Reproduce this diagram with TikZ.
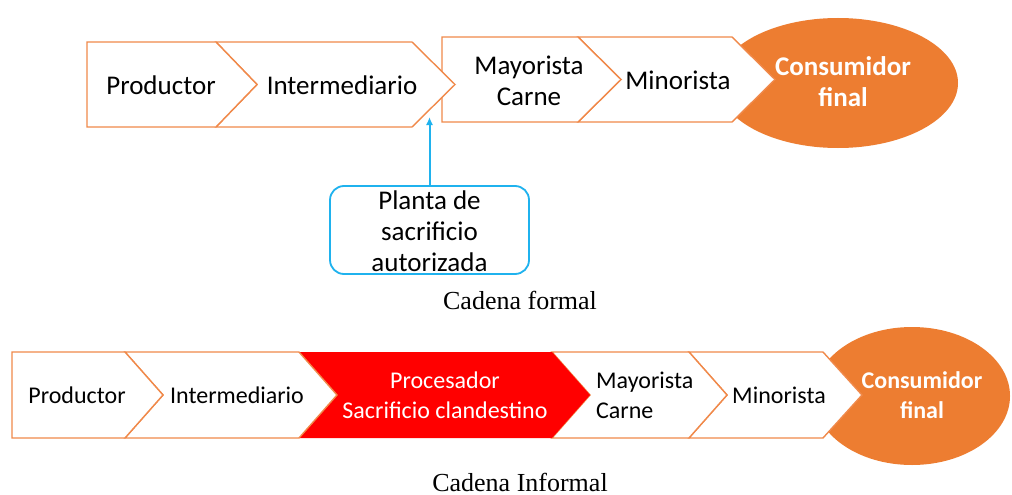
\documentclass[tikz,border=0pt]{standalone}
\usepackage{fontspec}
\usetikzlibrary{arrows.meta}
\setmainfont{Carlito}
\newfontfamily\serifcap{Liberation Serif}
\definecolor{chevline}{HTML}{F0894A}
\definecolor{ellfill}{HTML}{ED7D31}
\definecolor{cyanline}{HTML}{1FB2EE}
\definecolor{redfill}{HTML}{FF0000}
\begin{document}
\begin{tikzpicture}[x=1pt,y=-1pt,
  chev/.style={draw=chevline,fill=white,line width=1.4pt,line join=miter},
  redchev/.style={fill=redfill,draw=none},
  ell/.style={fill=ellfill,draw=none},
  bigtxt/.style={font=\fontsize{27}{31}\selectfont,text=black,inner sep=0pt,align=center},
  smalltxt/.style={font=\fontsize{24}{30}\selectfont,text=black,inner sep=0pt,align=center},
  plantabox/.style={draw=cyanline,line width=1.8pt,rounded corners=14pt,fill=white,minimum width=199pt,minimum height=88pt,inner sep=0pt},
  caption/.style={font=\serifcap\fontsize{26}{30}\selectfont,inner sep=0pt,anchor=base},
  conn/.style={draw=cyanline,line width=2pt,-{Latex[length=8pt,width=7pt]}}
]
\useasboundingbox (0,0) rectangle (1012,495);
\fill[white] (0,0) rectangle (1012,495);
% ---------- top chain ----------
\fill[ell] (838,83) ellipse [x radius=120, y radius=65];
\path[chev] (578,37) -- (732,37) -- (775,79.5) -- (732,122) -- (578,122) -- (621,79.5) -- cycle;
\path[chev] (442,37) -- (578,37) -- (621,79.5) -- (578,122) -- (442,122) -- cycle;
\path[chev] (216,42) -- (412,42) -- (455,84.5) -- (412,127) -- (216,127) -- (257,84.5) -- cycle;
\path[chev] (87,42) -- (216,42) -- (257,84.5) -- (216,127) -- (87,127) -- cycle;
\node[bigtxt] (tprod) at (161,85) {Productor};
\node[bigtxt] (tinter) at (342,85) {Intermediario};
\node[bigtxt] (tmay) at (529,81) {Mayorista\\Carne\hspace{18pt}};
\node[bigtxt] (tmin) at (678,80) {Minorista};
\node[bigtxt,text=white,font=\fontsize{27}{31}\selectfont\bfseries] (tcons) at (843,82) {Consumidor\\final};
% planta
\node[plantabox] (planta) at (429.5,230) {};
\node[bigtxt] (plantatxt) at (429.5,231) {Planta de\\sacrificio\\autorizada};
\coordinate (arrowend) at (429.5,117);
\draw[conn] (planta.north) -- (arrowend);
\node[caption] (cap1) at (520,309) {Cadena formal};
% ---------- bottom chain ----------
\fill[ell] (912,396) ellipse [x radius=98, y radius=69];
\path[chev] (689,352) -- (823,352) -- (862,395) -- (823,438) -- (689,438) -- (727,395) -- cycle;
\path[chev] (552,352) -- (689,352) -- (727,395) -- (689,438) -- (552,438) -- (590,395) -- cycle;
\path[redchev] (299,352) -- (552,352) -- (590,395) -- (552,438) -- (299,438) -- (337,395) -- cycle;
\path[chev] (125,352) -- (299,352) -- (337,395) -- (299,438) -- (125,438) -- (163,395) -- cycle;
\path[chev] (12,352) -- (125,352) -- (163,395) -- (125,438) -- (12,438) -- cycle;
\node[smalltxt] (bprod) at (77,395) {Productor};
\node[smalltxt] (binter) at (237,395) {Intermediario};
\node[smalltxt,text=white] (bproc) at (445,395) {Procesador\\Sacrificio clandestino};
\node[smalltxt,align=left,anchor=west] (bmay) at (596,395) {Mayorista\\Carne};
\node[smalltxt] (bmin) at (779,395) {Minorista};
\node[smalltxt,text=white,font=\fontsize{24}{30}\selectfont\bfseries] (bcons) at (922,395) {Consumidor\\final};
\node[caption] (cap2) at (520,491) {Cadena Informal};
\end{tikzpicture}
\end{document}
